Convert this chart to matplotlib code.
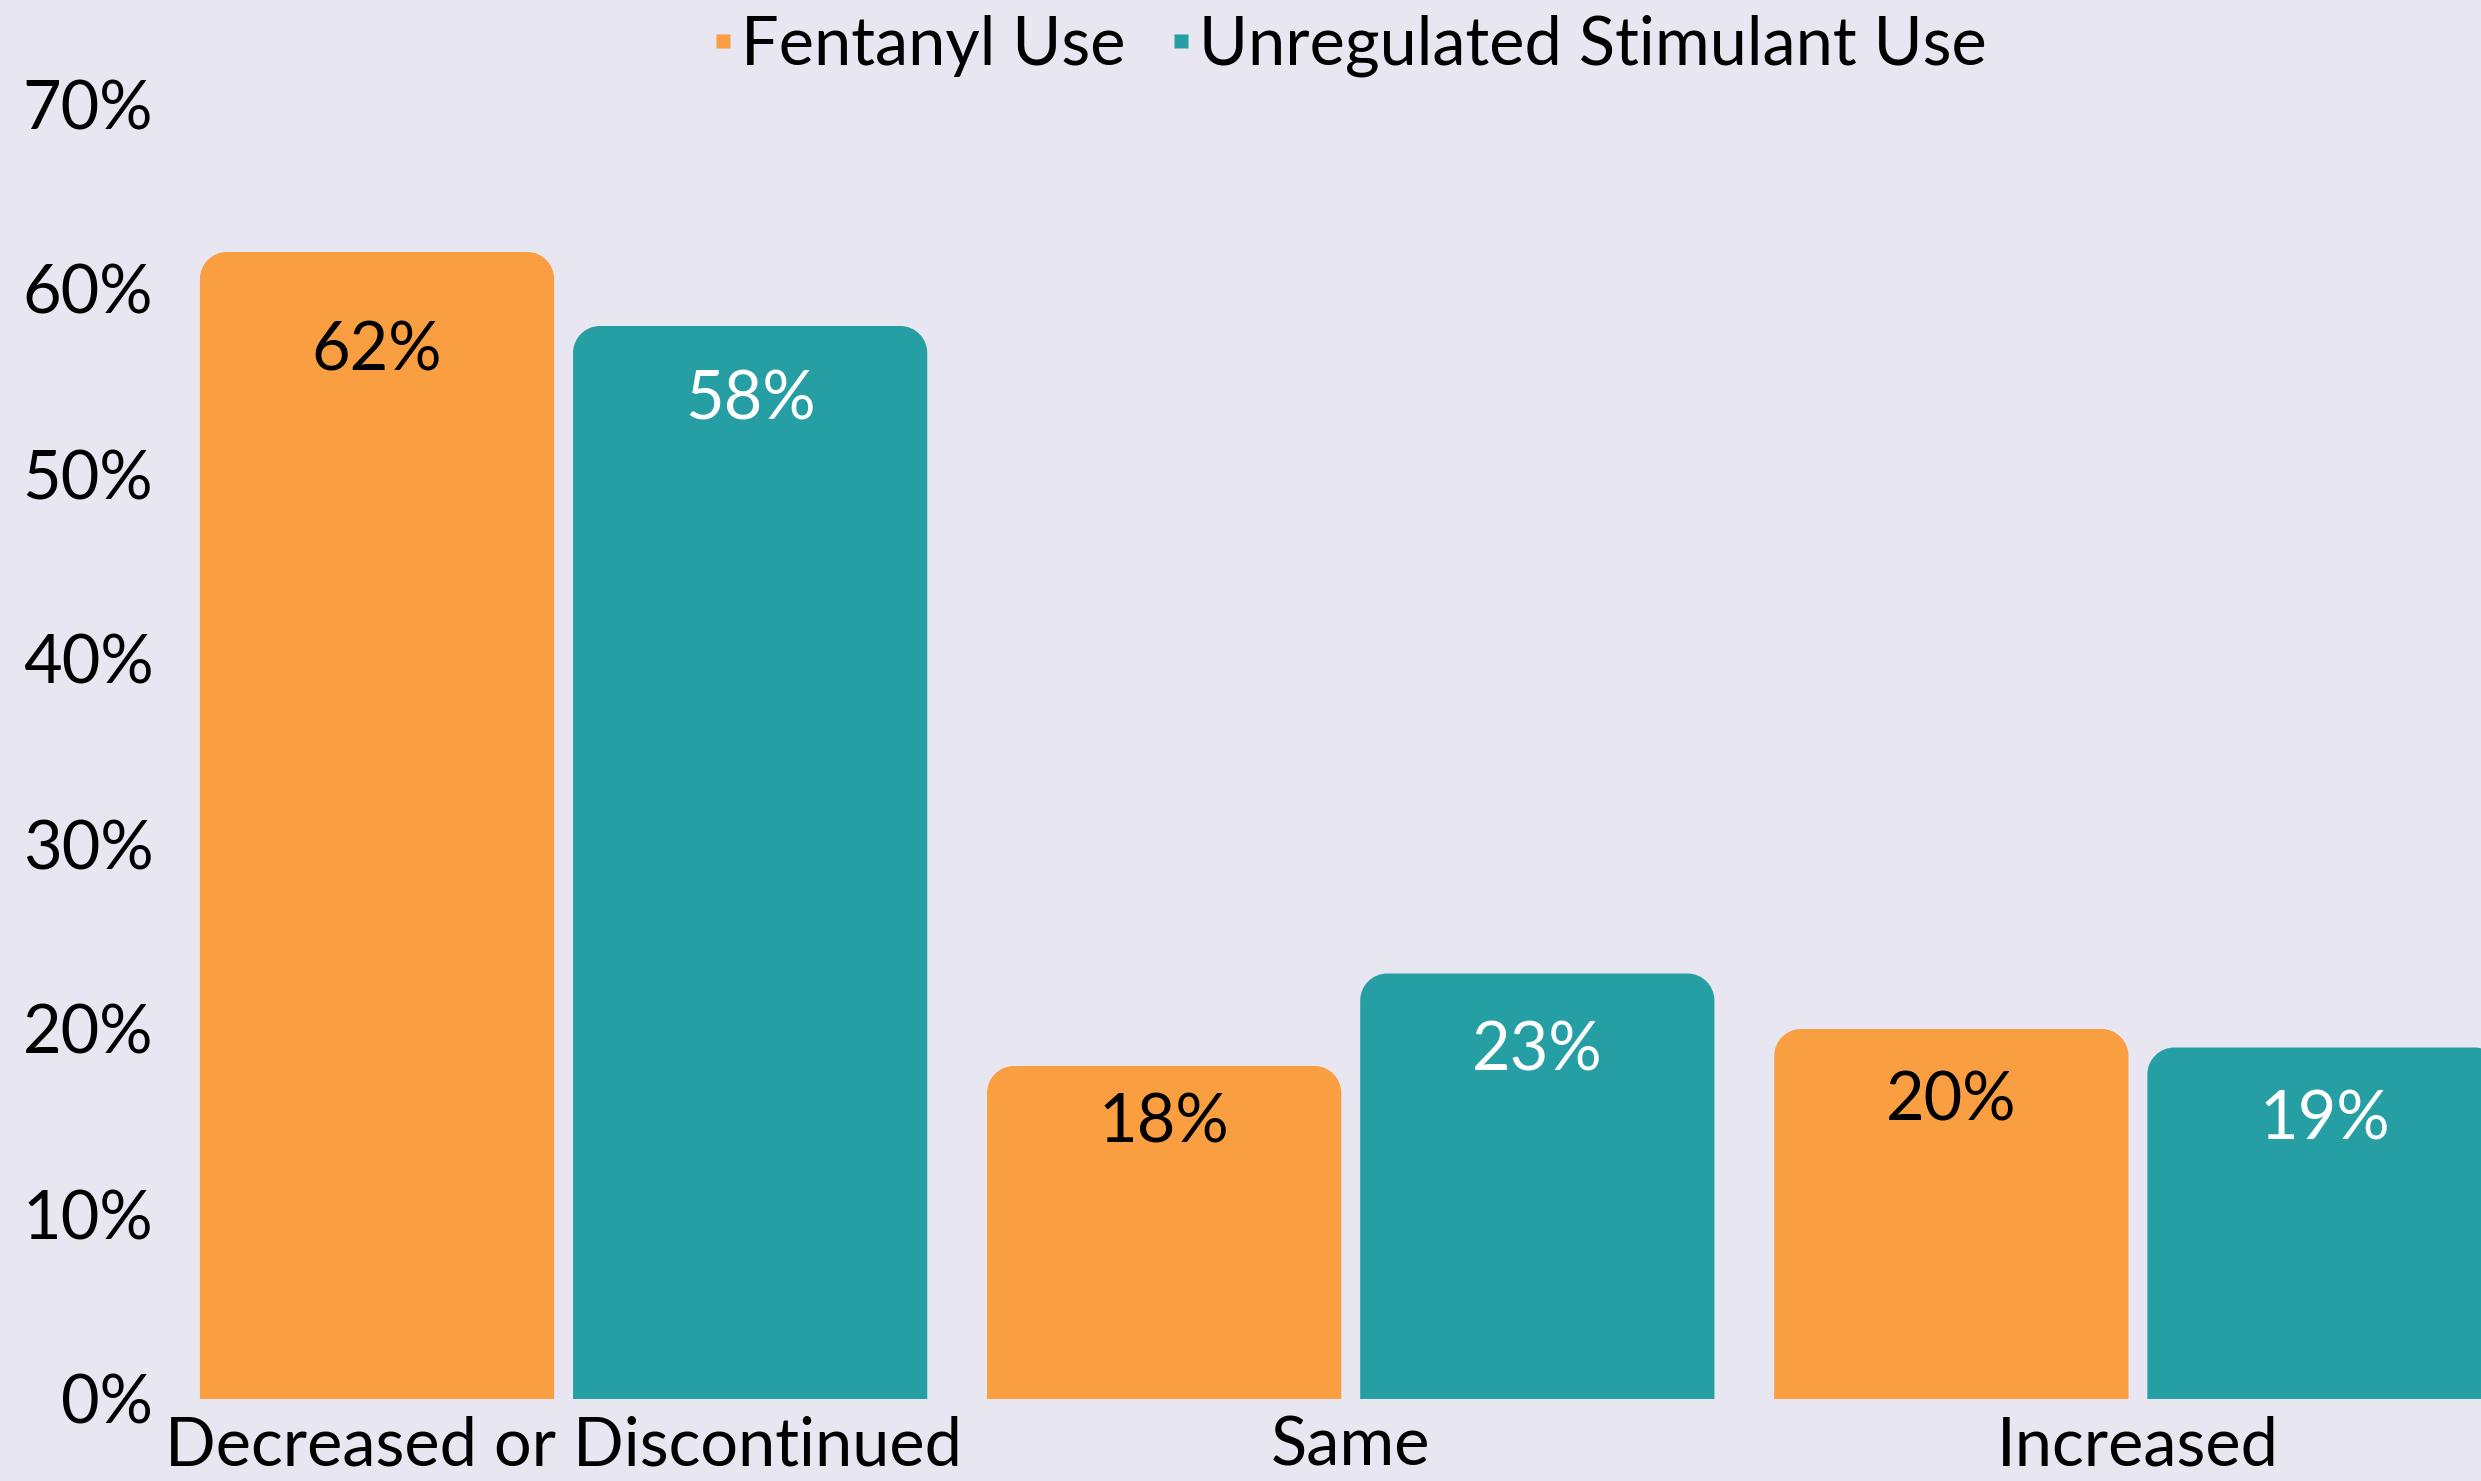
import matplotlib
matplotlib.use("Agg")
import matplotlib.pyplot as plt
from matplotlib.path import Path
from matplotlib.patches import PathPatch
from matplotlib.lines import Line2D
import numpy as np

# Data
categories = ["Decreased or Discontinued", "Same", "Increased"]
series_names = ["Fentanyl Use", "Unregulated Stimulant Use"]
fentanyl = [62, 18, 20]
stimulant = [58, 23, 19]
y_ticks = [0, 10, 20, 30, 40, 50, 60, 70]
y_tick_labels = [f"{t}%" for t in y_ticks]

# Style
BG = "#E8E6F0"
ORANGE = "#F99E41"
TEAL = "#259FA4"
FONT = ["Lato", "DejaVu Sans"]
FS = 48

# Downward offset (points) of each value label from its bar top
label_drop = [[67, 37, 48], [49, 52, 48]]

plt.rcParams["font.family"] = FONT

W, H = 2481, 1481
fig = plt.figure(figsize=(W / 100, H / 100), dpi=100, facecolor=BG)

ax_left, ax_right = 170, 2531.5
ax_bottom, ax_top = 1399, 104
ax = fig.add_axes([ax_left / W, (H - ax_bottom) / H,
                   (ax_right - ax_left) / W, (ax_bottom - ax_top) / H])
ax.set_facecolor(BG)
ax.set_xlim(-0.5, 2.5)
ax.set_ylim(0, 70)

x = np.arange(len(categories))
bw = 0.45
off = 0.237

bars_f = ax.bar(x - off, fentanyl, bw, color=ORANGE, label=series_names[0])
bars_s = ax.bar(x + off, stimulant, bw, color=TEAL, label=series_names[1])

# Replace plain rectangles with top-rounded shapes (radius in pixels)
fig.canvas.draw()
px_per_x = ax.transData.transform((1, 0))[0] - ax.transData.transform((0, 0))[0]
px_per_y = ax.transData.transform((0, 1))[1] - ax.transData.transform((0, 0))[1]
radius_px = 27
rx = radius_px / px_per_x
ry = radius_px / px_per_y
k = 0.5523


def rounded_top(x0, w, h):
    x1 = x0 + w
    verts = [
        (x0, 0), (x0, h - ry),
        (x0, h - ry + k * ry), (x0 + rx - k * rx, h), (x0 + rx, h),
        (x1 - rx, h),
        (x1 - rx + k * rx, h), (x1, h - ry + k * ry), (x1, h - ry),
        (x1, 0), (x0, 0),
    ]
    codes = [Path.MOVETO, Path.LINETO,
             Path.CURVE4, Path.CURVE4, Path.CURVE4,
             Path.LINETO,
             Path.CURVE4, Path.CURVE4, Path.CURVE4,
             Path.LINETO, Path.CLOSEPOLY]
    return Path(verts, codes)


for bars, color in ((bars_f, ORANGE), (bars_s, TEAL)):
    for r in bars:
        r.set_visible(False)
        ax.add_patch(PathPatch(rounded_top(r.get_x(), r.get_width(), r.get_height()),
                               facecolor=color, edgecolor="none", clip_on=False))

# Value labels inside bars
for si, (bars, vals, tc) in enumerate(((bars_f, fentanyl, "black"), (bars_s, stimulant, "white"))):
    for i, (r, v) in enumerate(zip(bars, vals)):
        ax.annotate(f"{v}%", (r.get_x() + r.get_width() / 2, v),
                    xytext=(0, -label_drop[si][i]), textcoords="offset points",
                    ha="center", va="center_baseline", color=tc, fontsize=FS)

ax.set_yticks(y_ticks)
ax.set_yticklabels(y_tick_labels)
ax.set_xticks(x)
ax.set_xticklabels(categories)
ax.tick_params(axis="both", length=0, labelsize=FS, colors="black")
ax.tick_params(axis="y", pad=12)
ax.tick_params(axis="x", pad=12)
for s in ax.spines.values():
    s.set_visible(False)

handles = [Line2D([], [], marker="s", linestyle="none", markersize=10,
                  markerfacecolor=c, markeredgecolor="none") for c in (ORANGE, TEAL)]
ax.legend(handles, series_names, loc="center", bbox_to_anchor=(0.5, (ax_bottom - 46) / (ax_bottom - ax_top)),
          ncol=2, frameon=False, fontsize=FS, handlelength=0.25, handletextpad=0.15,
          columnspacing=0.7, borderaxespad=0, borderpad=0)

fig.savefig("out.png", dpi=100, facecolor=BG)
